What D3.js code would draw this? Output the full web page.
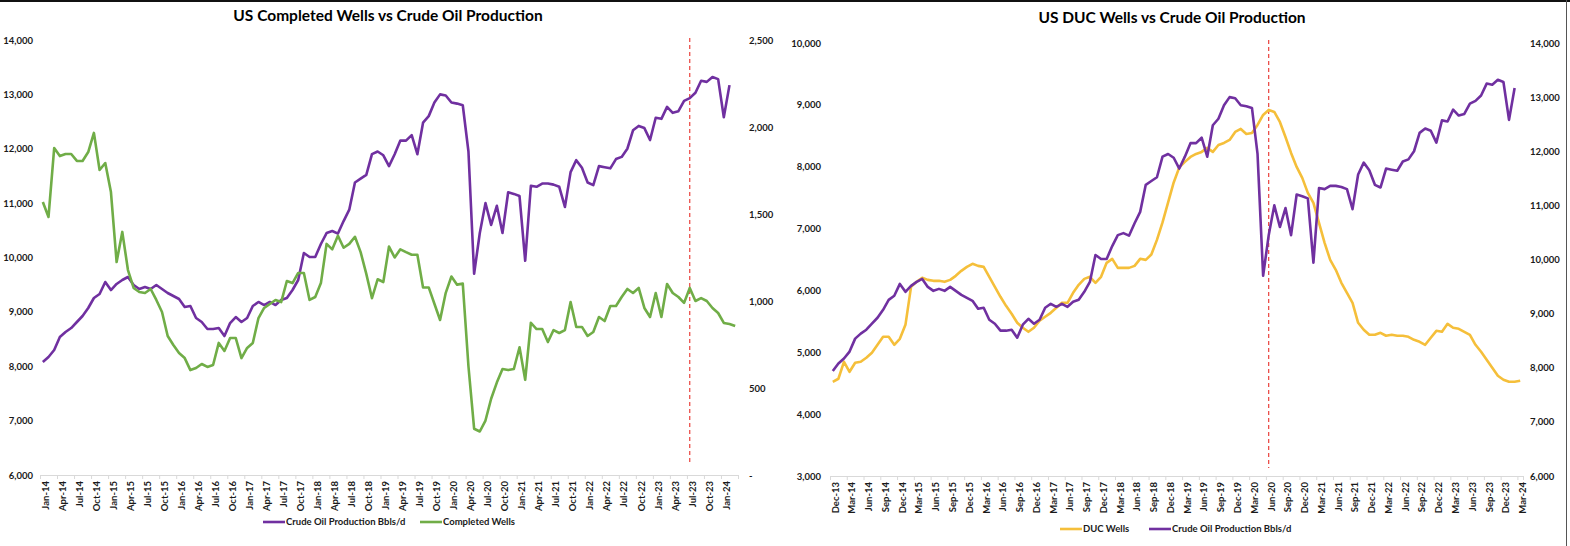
<!DOCTYPE html>
<html><head><meta charset="utf-8">
<script src="https://cdn.jsdelivr.net/npm/d3@7"></script>
<style>
body{margin:0;background:#fff}
svg{display:block}
text{font-family:Lato,"Open Sans","DejaVu Sans",sans-serif}
</style>
</head><body>
<svg id="c" width="1570" height="546"></svg>
<script>
// ---------- DATA ----------
// US crude oil production, kb/d, monthly Dec-13 .. Feb-24
const crudeOil = [7940,
 8078,8170,8299,8538,8630,8703,8814,8924,9071,9255,9329,9549,
 9402,9513,9586,9641,9494,9421,9457,9421,9494,9421,9347,9292,
 9237,9090,9108,8887,8814,8685,8685,8703,8556,8795,8905,8814,
 8887,9108,9182,9126,9182,9126,9218,9255,9402,9586,10083,10009,
 10009,10248,10450,10487,10440,10670,10880,11380,11450,11520,11900,11950,
 11880,11680,11900,12150,12150,12250,11900,12480,12600,12850,13000,12980,
 12850,12830,12800,11950,9700,10450,11000,10600,10950,10450,11200,11170,
 11130,9940,11320,11300,11360,11360,11340,11300,10930,11570,11790,11650,
 11380,11330,11680,11660,11640,11810,11850,12000,12340,12420,12380,12160,
 12570,12550,12770,12660,12690,12880,12930,13030,13250,13230,13320,13280,
 12580,13170];
// US completed wells, monthly Jan-14 .. Mar-24
const completedWells = [
 1569,1483,1879,1833,1845,1845,1805,1805,1856,1966,1753,1793,
 1626,1224,1397,1178,1075,1052,1046,1069,1006,937,799,747,
 701,672,603,615,638,621,632,759,713,787,787,672,
 730,759,902,960,983,1006,994,1115,1103,1161,1161,1006,
 1023,1103,1328,1297,1375,1306,1328,1369,1281,1156,1016,1125,
 1109,1313,1250,1297,1281,1266,1266,1078,1078,984,891,1047,
 1141,1094,1100,625,266,250,313,438,531,609,603,609,
 734,547,875,839,839,764,833,816,833,994,851,851,
 799,822,908,885,971,971,1023,1069,1046,1075,960,908,
 1046,908,1098,1046,1023,989,1075,1000,1017,1000,960,931,
 874,868,856];
// US DUC wells, monthly Dec-13 .. Mar-24
const ducWells = [4523,
 4572,4846,4685,4830,4846,4911,4992,5121,5250,5250,5121,5218,
 5444,6058,6139,6204,6171,6155,6155,6139,6171,6236,6317,6381,
 6430,6397,6381,6220,6058,5897,5751,5622,5477,5396,5331,5396,
 5509,5574,5638,5719,5800,5800,5961,6090,6187,6220,6123,6220,
 6446,6511,6365,6365,6365,6397,6511,6494,6580,6817,7100,7423,
 7746,7989,8078,8158,8207,8239,8304,8239,8352,8384,8433,8562,
 8611,8530,8546,8675,8837,8918,8885,8724,8481,8223,7997,7819,
 7577,7415,7092,6769,6494,6333,6123,5961,5800,5477,5364,5283,
 5283,5315,5267,5283,5267,5267,5250,5202,5170,5121,5234,5347,
 5331,5460,5396,5380,5331,5283,5121,5008,4879,4750,4620,4556,
 4523,4523,4540];

const leftTickLabels = ["Jan-14","Apr-14","Jul-14","Oct-14","Jan-15","Apr-15","Jul-15","Oct-15",
 "Jan-16","Apr-16","Jul-16","Oct-16","Jan-17","Apr-17","Jul-17","Oct-17","Jan-18","Apr-18","Jul-18","Oct-18",
 "Jan-19","Apr-19","Jul-19","Oct-19","Jan-20","Apr-20","Jul-20","Oct-20","Jan-21","Apr-21","Jul-21","Oct-21",
 "Jan-22","Apr-22","Jul-22","Oct-22","Jan-23","Apr-23","Jul-23","Oct-23","Jan-24"];
const rightTickLabels = ["Dec-13","Mar-14","Jun-14","Sep-14","Dec-14","Mar-15","Jun-15","Sep-15","Dec-15",
 "Mar-16","Jun-16","Sep-16","Dec-16","Mar-17","Jun-17","Sep-17","Dec-17","Mar-18","Jun-18","Sep-18","Dec-18",
 "Mar-19","Jun-19","Sep-19","Dec-19","Mar-20","Jun-20","Sep-20","Dec-20","Mar-21","Jun-21","Sep-21","Dec-21",
 "Mar-22","Jun-22","Sep-22","Dec-22","Mar-23","Jun-23","Sep-23","Dec-23","Mar-24"];
const leftTicksLeft = [6000,7000,8000,9000,10000,11000,12000,13000,14000];
const leftTicksRight = [0,500,1000,1500,2000,2500];
const rightTicksLeft = [3000,4000,5000,6000,7000,8000,9000,10000];
const rightTicksRight = [6000,7000,8000,9000,10000,11000,12000,13000,14000];
const leftMarkerLabel = "Jul-23";   // dashed marker, left chart
const rightMarkerLabel = "Jun-20";  // dashed marker, right chart

// month categories
const leftMonths = d3.timeMonth.range(new Date(2014,0,1), new Date(2024,3,1));   // Jan-14..Mar-24
const rightMonths = d3.timeMonth.range(new Date(2013,11,1), new Date(2024,3,1)); // Dec-13..Mar-24
const fmtM = d3.timeFormat("%b-%y");

const PURPLE="#7030A0", GREEN="#70AD47", GOLD="#F5BF3A", RED="#E8302A";
const svg = d3.select("#c");

// frame
svg.append("rect").attr("x",0).attr("y",0).attr("width",1570).attr("height",2).attr("fill","#111");
svg.append("line").attr("x1",1566.5).attr("x2",1566.5).attr("y1",0).attr("y2",546).attr("stroke","#555");

function drawChart(cfg){
  const g = svg.append("g");
  const n = cfg.months.length;
  const x = d3.scaleLinear().domain([-0.5, n-0.5]).range([cfg.x0, cfg.x1]);
  const yL = d3.scaleLinear().domain(cfg.leftDomain).range([cfg.yB, cfg.yT]);
  const yR = d3.scaleLinear().domain(cfg.rightDomain).range([cfg.yB, cfg.yT]);
  const labelIdx = cfg.tickLabels.map(l => cfg.months.findIndex(m => fmtM(m)===l));

  // x axis line + tick marks at category boundaries
  const tickAxis = d3.axisBottom(x).tickValues(labelIdx.map(i=>i-0.5).concat([n-0.5])).tickSize(4).tickFormat("");
  const ta = g.append("g").attr("transform",`translate(0,${cfg.yB})`).call(tickAxis);
  ta.select(".domain").attr("stroke","#D9D9D9");
  ta.selectAll(".tick line").attr("stroke","#D9D9D9");

  // x labels
  const labAxis = d3.axisBottom(x).tickValues(labelIdx).tickSize(0)
    .tickFormat((d,i)=>cfg.tickLabels[i]);
  const la = g.append("g").attr("transform",`translate(0,${cfg.yB})`).call(labAxis);
  la.select(".domain").remove();
  la.selectAll("text").attr("transform","rotate(-90)")
    .attr("text-anchor","end").attr("x",-6).attr("y",2).attr("dy","0.35em")
    .attr("font-size",9.5).attr("font-weight","bold").attr("fill","#1a1a1a")
    .attr("font-family","Lato,'Open Sans',sans-serif");

  // y axes
  const fmt = d => d===0 ? "-" : d3.format(",")(d);
  const al = g.append("g").attr("transform",`translate(${cfg.leftLabelX},0)`)
    .call(d3.axisLeft(yL).tickValues(cfg.leftTicks).tickSize(0).tickPadding(0).tickFormat(fmt));
  al.select(".domain").remove();
  const ar = g.append("g").attr("transform",`translate(${cfg.rightLabelX},0)`)
    .call(d3.axisRight(yR).tickValues(cfg.rightTicks).tickSize(0).tickPadding(0).tickFormat(fmt));
  ar.select(".domain").remove();
  g.selectAll(".tick text").filter(function(){return !this.getAttribute("transform");})
    .attr("font-size",9.5).attr("font-weight","bold").attr("fill","#1a1a1a")
    .attr("font-family","Lato,'Open Sans',sans-serif");

  // marker
  const mi = cfg.months.findIndex(m=>fmtM(m)===cfg.marker);
  g.append("line").attr("x1",x(mi)).attr("x2",x(mi)).attr("y1",cfg.markTop).attr("y2",cfg.markBot)
    .attr("stroke",RED).attr("stroke-width",1.1).attr("stroke-dasharray","4,3");

  // series
  cfg.series.forEach(s=>{
    const sc = s.axis==="L" ? yL : yR;
    const line = d3.line().x((d,i)=>x(i+s.offset)).y(d=>sc(d));
    g.append("path").datum(s.values).attr("d",line).attr("fill","none")
      .attr("stroke",s.color).attr("stroke-width",2.6).attr("stroke-linejoin","round");
  });

  // title
  g.append("text").attr("x",cfg.titleX).attr("y",cfg.titleY).attr("text-anchor","middle")
    .attr("font-size",15.5).attr("font-weight","bold").attr("fill","#000").text(cfg.title);

  // legend
  cfg.legend.forEach(l=>{
    g.append("line").attr("x1",l.x).attr("x2",l.x+22).attr("y1",cfg.legendY).attr("y2",cfg.legendY)
      .attr("stroke",l.color).attr("stroke-width",2.6);
    g.append("text").attr("x",l.x+23).attr("y",cfg.legendY).attr("dy","0.35em")
      .attr("font-size",9.5).attr("font-weight","bold").attr("fill","#1a1a1a").text(l.label);
  });
}

drawChart({
  months:leftMonths, tickLabels:leftTickLabels, x0:40, x1:738, yB:475, yT:40,
  leftDomain:[6000,14000], rightDomain:[0,2500], leftTicks:leftTicksLeft, rightTicks:leftTicksRight,
  leftLabelX:33, rightLabelX:749, marker:leftMarkerLabel, markTop:38, markBot:462,
  series:[
    {values:crudeOil.slice(1), axis:"L", color:PURPLE, offset:0},
    {values:completedWells, axis:"R", color:GREEN, offset:0}
  ],
  title:"US Completed Wells vs Crude Oil Production", titleX:388, titleY:21,
  legendY:522,
  legend:[{x:263,color:PURPLE,label:"Crude Oil Production Bbls/d"},{x:420,color:GREEN,label:"Completed Wells"}]
});

drawChart({
  months:rightMonths, tickLabels:rightTickLabels, x0:830, x1:1523, yB:476, yT:43,
  leftDomain:[3000,10000], rightDomain:[6000,14000], leftTicks:rightTicksLeft, rightTicks:rightTicksRight,
  leftLabelX:821, rightLabelX:1530, marker:rightMarkerLabel, markTop:40, markBot:468,
  series:[
    {values:ducWells, axis:"L", color:GOLD, offset:0},
    {values:crudeOil, axis:"R", color:PURPLE, offset:0}
  ],
  title:"US DUC Wells vs Crude Oil Production", titleX:1172, titleY:23,
  legendY:529,
  legend:[{x:1060,color:GOLD,label:"DUC Wells"},{x:1149,color:PURPLE,label:"Crude Oil Production Bbls/d"}]
});
</script>
</body></html>
